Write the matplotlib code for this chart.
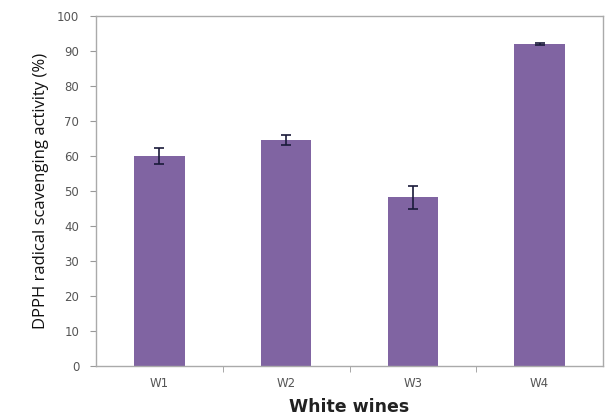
import matplotlib
matplotlib.use("Agg")
import matplotlib.pyplot as plt
import numpy as np

categories = ["W1", "W2", "W3", "W4"]
values = [60.0, 64.6, 48.2, 92.0]
errors = [2.2, 1.4, 3.3, 0.3]
yticks = [0, 10, 20, 30, 40, 50, 60, 70, 80, 90, 100]

fig = plt.figure(figsize=(6.05, 4.16), dpi=100)
ax = fig.add_axes([96/605, 1-366/416, (603-96)/605, (366-16)/416])

x = np.arange(len(categories))
ax.bar(x, values, width=0.4, color="#8064A2", zorder=2)
ax.errorbar(x, values, yerr=errors, fmt="none", ecolor="#1a1a3a", elinewidth=1.2,
            capsize=3.5, capthick=1.2, zorder=3)

ax.set_xlim(-0.5, len(categories) - 0.5)
ax.set_ylim(0, 100)
ax.set_yticks(yticks)
ax.set_yticklabels([str(t) for t in yticks], fontsize=8.5, color="#555555", family="DejaVu Sans")
ax.set_xticks(x)
ax.set_xticklabels(categories, fontsize=8.5, color="#555555", family="DejaVu Sans")
ax.tick_params(axis="x", length=0, pad=8)
ax.tick_params(axis="y", length=4, color="#999999", direction="out", pad=8)
ax.set_xticks(np.arange(0.5, len(categories) - 0.5, 1), minor=True)
ax.tick_params(axis="x", which="minor", length=4, color="#999999", direction="out")

for s in ax.spines.values():
    s.set_color("#aaaaaa")
    s.set_linewidth(1.0)

ax.set_ylabel("DPPH radical scavenging activity (%)", fontsize=12, family="Open Sans",
              color="#111111", labelpad=6)
ax.set_xlabel("White wines", fontsize=12.5, fontweight="bold", family="DejaVu Sans",
              color="#222222", labelpad=6)

fig.savefig("out.png", dpi=100)
